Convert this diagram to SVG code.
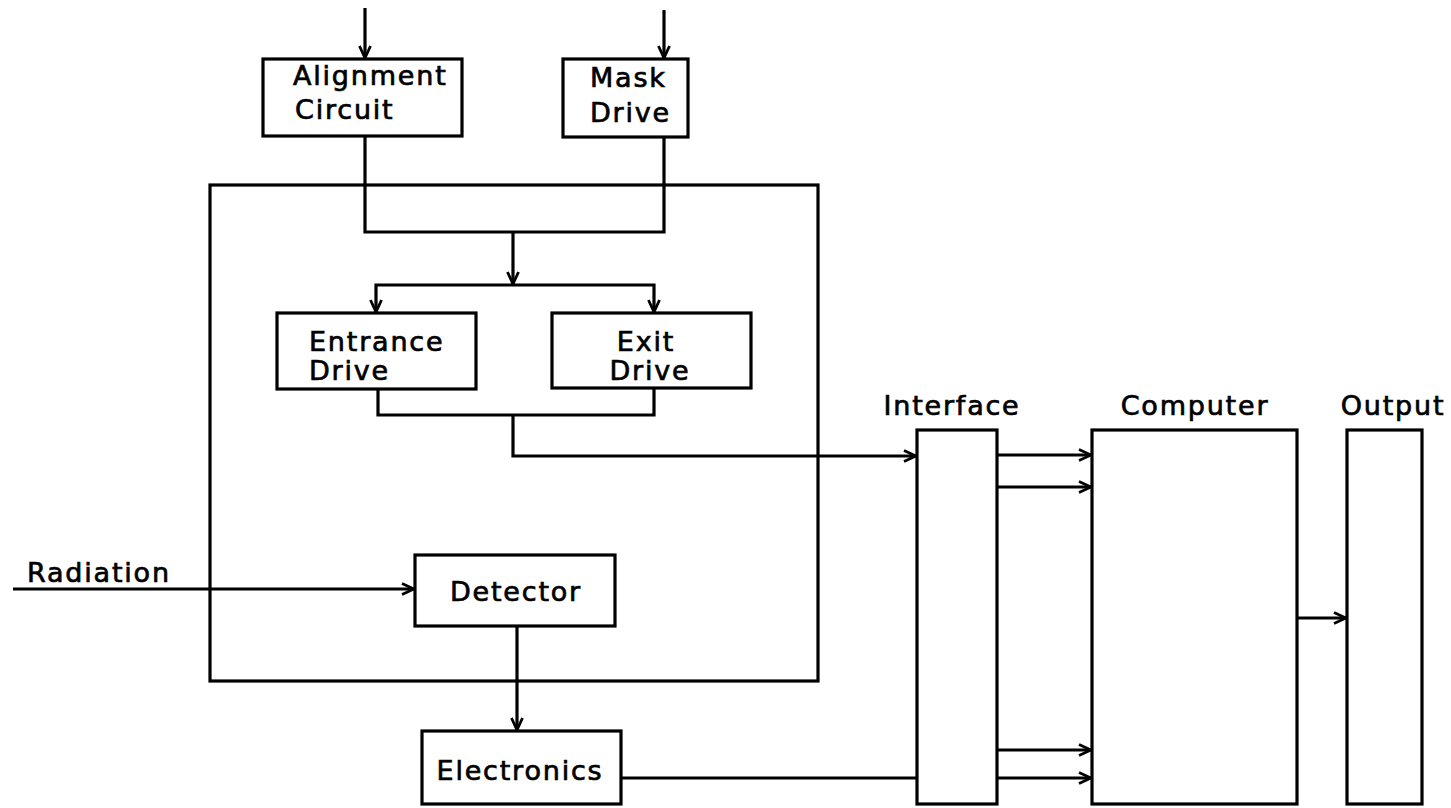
<svg xmlns="http://www.w3.org/2000/svg" width="1451" height="808" viewBox="0 0 1451 808">
<defs>
<style>
.box{fill:none;stroke:#000;stroke-width:3.2}
.ln{fill:none;stroke:#000;stroke-width:3.2}
.ar{fill:none;stroke:#000;stroke-width:3.2;marker-end:url(#ah)}
.t{font-family:"DejaVu Sans","Liberation Sans",sans-serif;font-size:27px;letter-spacing:1.8px;fill:#000;stroke:#000;stroke-width:0.7}
.c{text-anchor:middle}
</style>
<marker id="ah" viewBox="0 0 14 14" refX="13" refY="7" markerWidth="14" markerHeight="14" markerUnits="userSpaceOnUse" orient="auto">
<path d="M1,1.5 L13,7 L1,12.5" fill="none" stroke="#000" stroke-width="2.8"/>
</marker>
</defs>
<rect width="1451" height="808" fill="#fff"/>
<g id="controller">
<rect class="box" x="210" y="185" width="608" height="496"/>
</g>
<g id="alignment-circuit">
<rect class="box" x="263" y="59" width="199" height="77"/>
<text class="t" x="293" y="85">Alignment</text>
<text class="t" x="295" y="119">Circuit</text>
</g>
<g id="mask-drive">
<rect class="box" x="563" y="59" width="125" height="78"/>
<text class="t" x="590" y="87">Mask</text>
<text class="t" x="590" y="122">Drive</text>
</g>
<g id="entrance-drive">
<rect class="box" x="277" y="313" width="199" height="76"/>
<text class="t" x="309" y="351">Entrance</text>
<text class="t" x="309" y="380">Drive</text>
</g>
<g id="exit-drive">
<rect class="box" x="552" y="313" width="199" height="75"/>
<text class="t c" x="646" y="351">Exit</text>
<text class="t c" x="650" y="380">Drive</text>
</g>
<g id="detector">
<rect class="box" x="415" y="555" width="200" height="71"/>
<text class="t c" x="516" y="601">Detector</text>
</g>
<g id="electronics">
<rect class="box" x="422" y="731" width="199" height="73"/>
<text class="t c" x="520" y="780">Electronics</text>
</g>
<g id="interface">
<rect class="box" x="917" y="430" width="80" height="374"/>
<text class="t c" x="952" y="415">Interface</text>
</g>
<g id="computer">
<rect class="box" x="1092" y="430" width="205" height="374"/>
<text class="t c" x="1195" y="415">Computer</text>
</g>
<g id="output">
<rect class="box" x="1347" y="430" width="75" height="374"/>
<text class="t c" x="1393" y="415">Output</text>
</g>
<g id="radiation-label">
<text class="t" x="27" y="582">Radiation</text>
</g>
<g id="connectors">
<line class="ar" x1="365" y1="8" x2="365" y2="58"/>
<line class="ar" x1="664" y1="10" x2="664" y2="58"/>
<polyline class="ln" points="365,136 365,232 664,232 664,137"/>
<line class="ar" x1="513" y1="232" x2="513" y2="284"/>
<polyline class="ar" points="513,285 376,285 376,312"/>
<polyline class="ar" points="513,285 654,285 654,312"/>
<polyline class="ln" points="378,389 378,415 654,415 654,388"/>
<polyline class="ar" points="513,415 513,456 916,456"/>
<line class="ar" x1="13" y1="589" x2="414" y2="589"/>
<line class="ar" x1="517" y1="626" x2="517" y2="730"/>
<line class="ln" x1="621" y1="778" x2="917" y2="778"/>
<line class="ar" x1="997" y1="455" x2="1091" y2="455"/>
<line class="ar" x1="997" y1="487" x2="1091" y2="487"/>
<line class="ar" x1="997" y1="750" x2="1091" y2="750"/>
<line class="ar" x1="997" y1="778" x2="1091" y2="778"/>
<line class="ar" x1="1297" y1="618" x2="1346" y2="618"/>
</g>
</svg>
